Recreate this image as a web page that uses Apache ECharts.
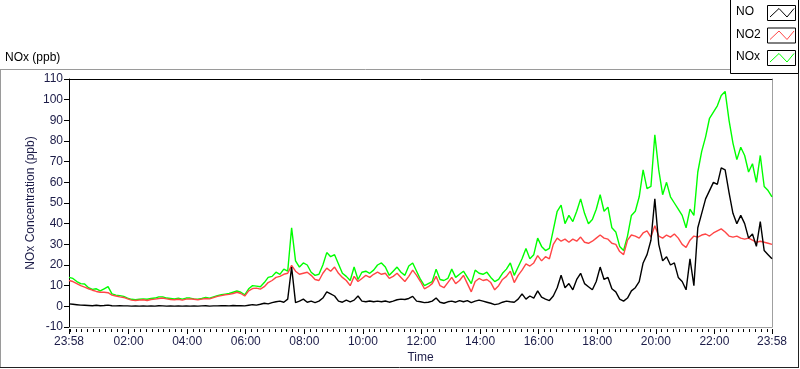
<!DOCTYPE html>
<html><head><meta charset="utf-8">
<script src="https://cdn.jsdelivr.net/npm/echarts@6/dist/echarts.min.js"></script>
<style>html,body{margin:0;padding:0;background:#fff}#c{width:800px;height:369px}</style>
</head><body><div id="c"></div>
<script>
// Sampling of the values: one value every 8 minutes, starting at 23:58
const startClock = '23:58';
const stepMinutes = 8;

const majorTickMinutes = [0,122,242,362,482,602,722,842,962,1082,1202,1322,1440];
const majorTickLabels = ['23:58','02:00','04:00','06:00','08:00','10:00','12:00','14:00','16:00','18:00','20:00','22:00','23:58'];

const seriesNames = ['NO','NO2','NOx'];
const seriesColors = ['#000000','#ff4646','#00ff00'];

const noValues = [
1.2,1.0,0.8,0.6,0.5,0.4,0.3,0.5,0.3,0.4,
0.6,0.3,0.2,0.3,0.2,0.2,0.1,0.2,0.1,0.2,
0.1,0.2,0.1,0.3,0.2,0.1,0.2,0.1,0.2,0.1,
0.2,0.1,0.2,0.1,0.2,0.3,0.1,0.2,0.2,0.3,
0.3,0.2,0.4,0.3,0.3,0.2,0.5,0.8,0.6,1.0,
1.5,1.2,1.8,2.2,2.5,2,3.5,19,1.8,2.5,
3.5,2,2.5,1.8,2.5,4,7,6,5,2.5,
2,3,2.2,3,5,2.5,2.2,2.6,2.2,2.5,
2.2,2.6,2,2.5,3.2,3.5,3.3,3.8,4.8,2.5,
2.2,1.8,2,2.5,4,2,1.5,2.2,2.5,2,
2.8,2.2,2.8,1.8,2.5,3,2.5,2,1.5,0.8,
1.2,2,2.5,2.2,2,3.5,6,3.5,5,4,
7.5,4.5,3.5,2.8,5,9,15,9,11,8,
13,16,11,9.5,8,12,19,13,14,8.5,
7,3.5,2.5,4,7.5,9,12,21,25,32,
52,30,22,24,20,21,14,12,8,23,
10,38,45,52,56,60,59,67,66,55,
45,40,44,40,33,35,29,41,27,25,
23];

const no2Values = [
12.5,12,11,10,9.3,8.5,7.8,7.2,6.8,6.8,
6.6,5.4,5,4.6,4.3,3.6,3.0,2.8,3,3.2,
2.8,3.3,3.5,3.8,4,3.6,3.3,3.2,3.4,3.0,
3.5,3.6,3.4,3.2,3.5,3.8,3.6,4.2,4.8,5.2,
5.6,5.8,6.2,6.8,6.2,5.0,7.5,8.6,8.8,8.3,
9.5,11.5,12.5,14,14.5,15.5,16,19.8,17,15.5,
16,16.5,15,13,12.5,16,18.5,17,19,16,
14,12.5,10,14.5,12,13.5,15,14,15.5,16.5,
15.5,16,13.5,14.5,16,14,12,14.5,17.5,15,
12,8.5,9.5,11,14.5,10,9,11.5,14,11,
12.5,15,11,7,12,13.5,12.5,13,11.5,8,
10,13,14.5,17,11.5,15,17.5,20.5,19.5,21,
24.5,22,24,23,30,33,31.5,32.5,31,32.5,
31.5,33.5,31,30.5,31.5,33,34.5,33,32.5,30.5,
30,26.5,25,32,34.5,34,33,35.5,36.5,33.5,
39,34,33,34.5,33.5,35,33,30,28.5,32,
34,33.5,34.5,35,34,35.5,36.5,37.5,36,34,
33.5,34,33,32.5,33,32,31,31.5,31,30.5,
30];

const noxValues = [
14,13.5,12,11,10.8,9,8.2,8.5,7.5,8.5,
9.5,6,5.4,5.2,4.8,4,3.4,3.2,3.4,3.6,
3.4,3.8,4,4.6,4.6,4,3.8,3.6,3.9,3.5,
4,4,3.6,3.4,3.8,4.3,4,4.6,5.2,5.6,
5.9,6.2,6.8,7.4,6.8,5.6,8.5,10,9.8,9.5,
11.5,14,14.5,16.5,15.5,18,17,38,22,19,
21,20,16.5,15,15.5,20,26,24,25,20.5,
16,14.5,12.5,19,13,16.5,17,16,17.5,20,
21,19,15,17,19,16.5,15,19.5,21,17,
13,10,11,12,18,13,12.5,13.5,18,14,
15.5,17,14,11,17.5,16,15.5,16.5,14,12,
13,16,18,21,15,19,23,28,23,25,
33,29,27,28,37,46,49,40,44,41,
46,52,45,40,42,47,54,46,48,38,
36,29,27,34,44,46,53,66,57,58,
83,66,54,60,53,50,47,44,38,47,
44,65,75,82,91,94,97,102,104,90,
79,71,77,73,65,69,60,73,58,56,
53];

// ---- build ----
const font = 'Liberation Sans, Arial, sans-serif';
const labelColor = '#1c1c48';
function pairs(vals){ return vals.map((v,i)=>[i*stepMinutes, v]); }

// minor ticks every 12 minutes of clock time (first at 00:00, i.e. 2 minutes after start)
const minorTickMinutes = [];
for (let t = 2; t < 1440; t += 12) {
  if (majorTickMinutes.indexOf(t) === -1) minorTickMinutes.push(t);
}

const valuesBySeries = [noValues, no2Values, noxValues];
const plotOrder = [2,1,0]; // NOx drawn first, NO on top

const chart = echarts.init(document.getElementById('c'), null, {renderer:'canvas'});

const legendGraphics = [];
seriesNames.forEach((name, i) => {
  const top = 5 + i * 22.5;
  legendGraphics.push({type:'text', left:736, top: top + 1, style:{text:name, font:'12px ' + font, fill:'#000'}, z:110});
  legendGraphics.push({type:'rect', shape:{x:767.5, y:top+0.5, width:28, height:15}, style:{fill:'#fff', stroke:'#000', lineWidth:1}, z:110});
  legendGraphics.push({type:'polyline', shape:{points:[[770,top+12],[779,top+3.5],[787,top+12],[794,top+3.5]]}, style:{stroke:seriesColors[i], fill:null, lineWidth:1}, z:111});
});

const option = {
  animation:false,
  backgroundColor:'#fff',
  textStyle:{fontFamily:font},
  grid:{left:69, right:28, top:79, bottom:40, containLabel:false},
  graphic:[
    {type:'line', shape:{x1:0.5,y1:69,x2:0.5,y2:368}, style:{stroke:'#9a9a9a', lineWidth:1}, z:100},
    {type:'line', shape:{x1:0,y1:69.5,x2:731,y2:69.5}, style:{stroke:'#9a9a9a', lineWidth:1}, z:100},
    {type:'line', shape:{x1:0,y1:367.5,x2:799,y2:367.5}, style:{stroke:'#222', lineWidth:1}, z:100},
    {type:'line', shape:{x1:798.5,y1:73,x2:798.5,y2:368}, style:{stroke:'#222', lineWidth:1}, z:100},
    {type:'rect', shape:{x:730.5, y:-0.5, width:68, height:74}, style:{fill:'#fff', stroke:'#000', lineWidth:1}, z:105},
    {type:'text', left:5, top:52, style:{text:'NOx (ppb)', font:'12px ' + font, fill:'#000'}, z:100}
  ].concat(legendGraphics),
  xAxis:[
    {type:'value', min:0, max:1440, position:'bottom',
     axisLine:{show:true, onZero:false, lineStyle:{color:'#a0a0a0', width:1}},
     axisTick:{show:false}, axisLabel:{show:false}, splitLine:{show:false},
     name:'Time', nameLocation:'middle', nameGap:25, nameMoveOverlap:false,
     nameTextStyle:{fontSize:12, color:labelColor, fontFamily:font}},
    {type:'value', min:0, max:1440, position:'bottom', offset:2,
     axisLine:{show:false, onZero:false},
     axisTick:{show:true, customValues:majorTickMinutes, length:5, lineStyle:{color:'#000', width:1}},
     axisLabel:{show:true, customValues:majorTickMinutes, margin:7, fontSize:12, color:labelColor, fontFamily:font,
       formatter:(v)=>{ const k = majorTickMinutes.indexOf(Math.round(v)); return k>=0 ? majorTickLabels[k] : ''; }},
     splitLine:{show:false}},
    {type:'value', min:0, max:1440, position:'bottom', offset:2,
     axisLine:{show:false, onZero:false},
     axisTick:{show:true, customValues:minorTickMinutes, length:3, lineStyle:{color:'#000', width:1}},
     axisLabel:{show:false}, splitLine:{show:false}},
    {type:'value', min:0, max:1440, position:'top',
     axisLine:{show:true, onZero:false, lineStyle:{color:'#000', width:1}},
     axisTick:{show:false}, axisLabel:{show:false}, splitLine:{show:false}}
  ],
  yAxis:[
    {type:'value', min:-10, max:110, interval:10, position:'left',
     axisLine:{show:true, onZero:false, lineStyle:{color:'#000', width:1}},
     axisTick:{show:true, length:5, lineStyle:{color:'#000'}},
     axisLabel:{margin:6, fontSize:12, color:labelColor, fontFamily:font},
     splitLine:{show:false},
     name:'NOx Concentration (ppb)', nameLocation:'middle', nameGap:32, nameRotate:90, nameMoveOverlap:false,
     nameTextStyle:{fontSize:12, color:labelColor, fontFamily:font}},
    {type:'value', min:-10, max:110, interval:10, position:'right',
     axisLine:{show:true, onZero:false, lineStyle:{color:'#a0a0a0', width:1}},
     axisTick:{show:false}, axisLabel:{show:false}, splitLine:{show:false}}
  ],
  series: plotOrder.map(i => ({
    name: seriesNames[i], type:'line', xAxisIndex:0, yAxisIndex:0,
    data: pairs(valuesBySeries[i]), showSymbol:false, symbol:'none', smooth:false,
    lineStyle:{color:seriesColors[i], width:1.4}, itemStyle:{color:seriesColors[i]},
    z: 2 + (2 - i)
  }))
};
chart.setOption(option);
</script></body></html>
